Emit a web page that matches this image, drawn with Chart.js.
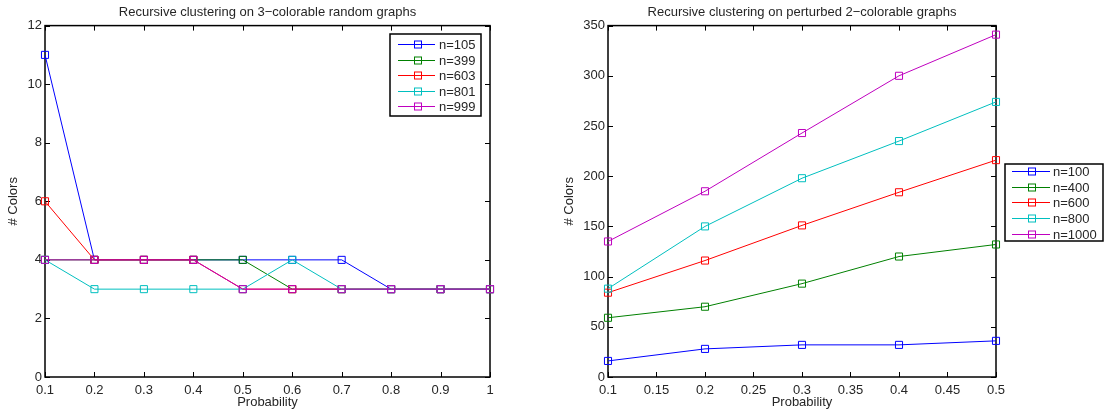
<!DOCTYPE html>
<html>
<head>
<meta charset="utf-8">
<script src="https://cdn.jsdelivr.net/npm/chart.js@4.4.0/dist/chart.umd.min.js"></script>
<style>
  html, body { margin: 0; padding: 0; background: #fff; }
  #wrap { display: flex; width: 1104px; height: 416px; }
  .cell { position: relative; width: 552px; height: 416px; }
</style>
</head>
<body>
<div id="wrap">
  <div class="cell"><canvas id="left"></canvas></div>
  <div class="cell"><canvas id="right"></canvas></div>
</div>
<script>
// left panel: 3-colorable random graphs
const probA = [0.1, 0.2, 0.3, 0.4, 0.5, 0.6, 0.7, 0.8, 0.9, 1.0];
const n105 = [11, 4, 4, 4, 4, 4, 4, 3, 3, 3];
const n399 = [4, 4, 4, 4, 4, 3, 3, 3, 3, 3];
const n603 = [6, 4, 4, 4, 3, 3, 3, 3, 3, 3];
const n801 = [4, 3, 3, 3, 3, 4, 3, 3, 3, 3];
const n999 = [4, 4, 4, 4, 3, 3, 3, 3, 3, 3];

// right panel: perturbed 2-colorable graphs
const probB = [0.1, 0.2, 0.3, 0.4, 0.5];
const n100 = [16, 28, 32, 32, 36];
const n400 = [59, 70, 93, 120, 132];
const n600 = [84, 116, 151, 184, 216];
const n800 = [88, 150, 198, 235, 274];
const n1000 = [135, 185, 243, 300, 341];

const colors = ['#0000ff', '#008000', '#ff0000', '#00bfbf', '#bf00bf'];
const FONT = "'Liberation Sans', Arial, sans-serif";
const FS = 13;
const TXT = '#262626';

function series(xs, ys, label, i, count) {
  return {
    label: label,
    data: ys.map((v, k) => ({ x: xs[k], y: v })),
    borderColor: colors[i],
    backgroundColor: 'rgba(0,0,0,0)',
    borderWidth: 1,
    pointStyle: 'rect',
    pointRadius: 5,
    pointBorderWidth: 1,
    pointBorderColor: colors[i],
    pointBackgroundColor: 'rgba(0,0,0,0)',
    tension: 0,
    clip: false,
    order: count - i
  };
}

// matlab prints 0.1, 0.15, 1 (no padded zeros)
const fmt = v => String(Number(v.toFixed(2)));

// box round the plot, ticks pointing inward on all four sides
const frame = {
  id: 'frame',
  beforeDatasetsDraw(chart) {
    const { ctx, chartArea: a, scales } = chart;
    const x = scales.x, y = scales.y;
    ctx.save();
    ctx.strokeStyle = '#000';
    ctx.lineWidth = 1;
    ctx.beginPath();
    x.ticks.forEach(t => {
      const px = Math.round(x.getPixelForValue(t.value)) + 0.5;
      ctx.moveTo(px, a.bottom); ctx.lineTo(px, a.bottom - 5);
      ctx.moveTo(px, a.top); ctx.lineTo(px, a.top + 5);
    });
    y.ticks.forEach(t => {
      const py = Math.round(y.getPixelForValue(t.value)) + 0.5;
      ctx.moveTo(a.left, py); ctx.lineTo(a.left + 5, py);
      ctx.moveTo(a.right, py); ctx.lineTo(a.right - 5, py);
    });
    ctx.stroke();
    ctx.lineWidth = 1.5;
    ctx.strokeRect(a.left, a.top, a.width, a.height);
    ctx.restore();
  }
};

// matlab style legend box
const key = {
  id: 'key',
  afterDraw(chart, args, o) {
    const ctx = chart.ctx;
    ctx.save();
    ctx.fillStyle = '#fff';
    ctx.fillRect(o.x, o.y, o.w, o.h);
    ctx.strokeStyle = '#000';
    ctx.lineWidth = 1.5;
    ctx.strokeRect(o.x, o.y, o.w, o.h);
    ctx.font = FS + 'px ' + FONT;
    ctx.textBaseline = 'middle';
    chart.data.datasets.forEach((ds, i) => {
      const cy = Math.round(o.y + o.first + i * o.step) + 0.5;
      ctx.strokeStyle = ds.borderColor;
      ctx.lineWidth = 1;
      ctx.beginPath();
      ctx.moveTo(o.x + o.lx0, cy);
      ctx.lineTo(o.x + o.lx1, cy);
      ctx.stroke();
      ctx.strokeRect(Math.round(o.x + o.mx - 3.5) + 0.5, cy - 3.5, 7, 7);
      ctx.fillStyle = TXT;
      ctx.fillText(ds.label, o.x + o.tx, cy + 1);
    });
    ctx.restore();
  }
};

function makeChart(id, title, datasets, xr, yr, pad, yw, keyOpt) {
  return new Chart(document.getElementById(id), {
    type: 'line',
    data: { datasets: datasets },
    options: {
      responsive: true,
      maintainAspectRatio: false,
      animation: false,
      layout: { padding: pad },
      plugins: {
        legend: { display: false },
        tooltip: { enabled: false },
        title: {
          display: true,
          text: title,
          fullSize: false,
          color: TXT,
          font: { family: FONT, size: FS, weight: 'normal' },
          padding: { top: 5, bottom: 5 }
        },
        key: keyOpt
      },
      scales: {
        x: {
          type: 'linear',
          min: xr[0], max: xr[1],
          grid: { display: false, drawTicks: false },
          border: { display: false },
          ticks: { color: TXT, font: { family: FONT, size: FS }, padding: 6, maxRotation: 0, autoSkip: false, stepSize: xr[2], callback: fmt },
          title: { display: true, text: 'Probability', color: TXT, font: { family: FONT, size: FS }, padding: { top: 0, bottom: 6 } },
          afterFit: s => { s.height = 39; }
        },
        y: {
          min: yr[0], max: yr[1],
          grid: { display: false, drawTicks: false },
          border: { display: false },
          ticks: { color: TXT, font: { family: FONT, size: FS }, padding: 3, stepSize: yr[2], callback: fmt },
          title: { display: true, text: '# Colors', color: TXT, font: { family: FONT, size: FS }, padding: { top: 6, bottom: 0 } },
          afterFit: s => { s.width = yw; }
        }
      }
    },
    plugins: [frame, key]
  });
}

const labelsA = ['n=105', 'n=399', 'n=603', 'n=801', 'n=999'];
const valsA = [n105, n399, n603, n801, n999];
makeChart('left', 'Recursive clustering on 3\u2212colorable random graphs',
  valsA.map((v, i) => series(probA, v, labelsA[i], i, 5)),
  [0.1, 1, 0.1], [0, 12, 2],
  { left: 0, right: 62, top: 0, bottom: 0 }, 45,
  { x: 390, y: 34, w: 91, h: 82, first: 10, step: 15.5, lx0: 8, lx1: 45, mx: 27, tx: 49 });

const labelsB = ['n=100', 'n=400', 'n=600', 'n=800', 'n=1000'];
const valsB = [n100, n400, n600, n800, n1000];
makeChart('right', 'Recursive clustering on perturbed 2\u2212colorable graphs',
  valsB.map((v, i) => series(probB, v, labelsB[i], i, 5)),
  [0.1, 0.5, 0.05], [0, 350, 50],
  { left: 4, right: 108, top: 0, bottom: 0 }, 52,
  { x: 453, y: 164, w: 98, h: 77, first: 7, step: 15.7, lx0: 7, lx1: 45, mx: 26, tx: 48 });
</script>
</body>
</html>
